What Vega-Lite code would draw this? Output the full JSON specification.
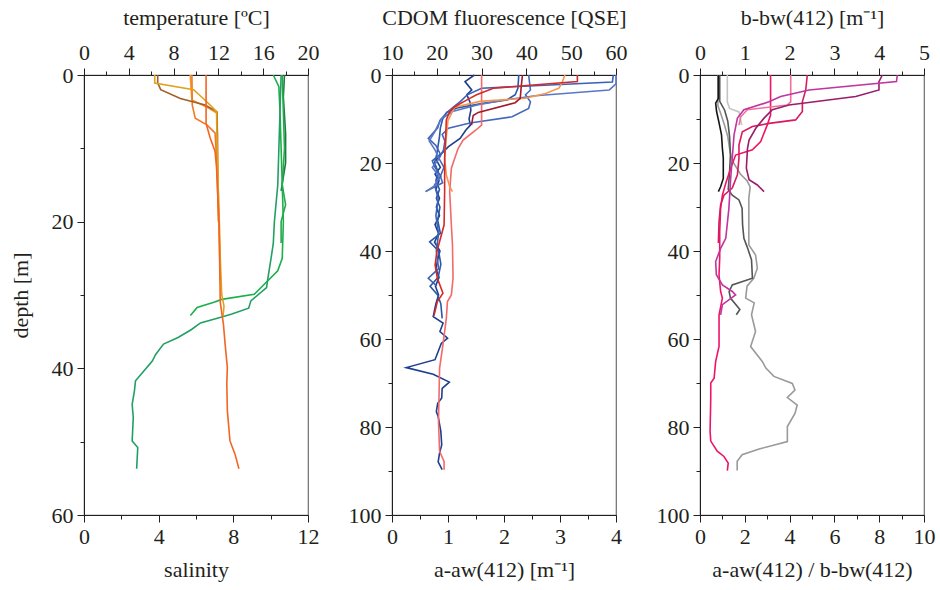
{
"$schema": "https://vega.github.io/schema/vega-lite/v6.json",
"padding": {"left": 8, "top": 5, "right": 2, "bottom": 2},
"config": {
  "font": "Liberation Serif",
  "view": {"stroke": "#6d6d6d", "strokeWidth": 1.2},
  "axis": {"labelFont": "Liberation Serif", "labelFontSize": 22, "titleFont": "Liberation Serif", "titleFontSize": 22, "titleFontWeight": "normal", "labelColor": "#231f20", "titleColor": "#231f20", "domainColor": "#231f20", "tickColor": "#231f20", "grid": false, "labelFlush": false, "labelOverlap": false, "labelPadding": 4, "tickWidth": 1, "domainWidth": 1, "titlePadding": 12},
  "line": {"strokeWidth": 1.6}
},
"datasets": {
"temp": [
{"id":"TA","d":0,"v":17.9},{"id":"TA","d":3,"v":17.8},{"id":"TA","d":8,"v":18.0},{"id":"TA","d":12,"v":18.0},{"id":"TA","d":15.8,"v":17.6},
{"id":"TB","d":0,"v":17.7},{"id":"TB","d":5,"v":17.8},{"id":"TB","d":10,"v":17.9},{"id":"TB","d":15,"v":17.7},{"id":"TB","d":17.7,"v":18.0},{"id":"TB","d":20,"v":17.6},{"id":"TB","d":22.9,"v":17.6},
{"id":"TC","d":0,"v":16.9},{"id":"TC","d":1.6,"v":17.4},{"id":"TC","d":5,"v":17.5},{"id":"TC","d":10,"v":17.6},{"id":"TC","d":15,"v":17.7},{"id":"TC","d":20,"v":17.8},{"id":"TC","d":25,"v":17.7},{"id":"TC","d":26.7,"v":17.3},{"id":"TC","d":29.9,"v":15.2},{"id":"TC","d":30.6,"v":12.3},{"id":"TC","d":31.0,"v":11.6},{"id":"TC","d":31.7,"v":10.1},{"id":"TC","d":32.8,"v":9.5},
{"id":"TD","d":0,"v":17.6},{"id":"TD","d":5,"v":17.5},{"id":"TD","d":10,"v":17.4},{"id":"TD","d":15,"v":17.3},{"id":"TD","d":20,"v":17.0},{"id":"TD","d":23,"v":16.9},{"id":"TD","d":25,"v":16.7},{"id":"TD","d":27.9,"v":16.4},{"id":"TD","d":29.0,"v":16.3},{"id":"TD","d":30.8,"v":14.9},{"id":"TD","d":31.8,"v":14.7},{"id":"TD","d":32.6,"v":13.2},{"id":"TD","d":33.0,"v":12.3},{"id":"TD","d":33.8,"v":10.4},{"id":"TD","d":34.7,"v":9.6},{"id":"TD","d":35.8,"v":8.4},{"id":"TD","d":36.7,"v":7.1},{"id":"TD","d":38.1,"v":6.4},{"id":"TD","d":39.0,"v":6.1},{"id":"TD","d":41.7,"v":4.6},{"id":"TD","d":43.1,"v":4.5},{"id":"TD","d":44.9,"v":4.3},{"id":"TD","d":46.7,"v":4.4},{"id":"TD","d":49.9,"v":4.3},{"id":"TD","d":50.8,"v":4.8},{"id":"TD","d":53.7,"v":4.7}
],
"sal": [
{"id":"SO1","d":0,"v":5.69},{"id":"SO1","d":3.4,"v":5.78},{"id":"SO1","d":4.5,"v":6.67},{"id":"SO1","d":5.2,"v":7.12},{"id":"SO1","d":10,"v":7.15},{"id":"SO1","d":20,"v":7.22},{"id":"SO1","d":28,"v":7.3},
{"id":"SO2","d":0,"v":5.78},{"id":"SO2","d":4.1,"v":5.8},{"id":"SO2","d":5.9,"v":5.96},{"id":"SO2","d":6.8,"v":6.58},{"id":"SO2","d":7.9,"v":7.02},{"id":"SO2","d":12,"v":7.12},{"id":"SO2","d":20,"v":7.2},
{"id":"SB","d":0,"v":3.95},{"id":"SB","d":1.1,"v":3.95},{"id":"SB","d":2.0,"v":4.11},{"id":"SB","d":3.2,"v":5.16},{"id":"SB","d":4.1,"v":6.49},{"id":"SB","d":5.0,"v":7.12},{"id":"SB","d":8,"v":7.15},{"id":"SB","d":11,"v":7.15},{"id":"SB","d":14,"v":7.15},
{"id":"SG","d":0,"v":3.79},{"id":"SG","d":1.1,"v":3.79},{"id":"SG","d":2.0,"v":5.87},{"id":"SG","d":3.0,"v":6.3},{"id":"SG","d":4.1,"v":6.76},{"id":"SG","d":5.0,"v":7.1},{"id":"SG","d":8,"v":7.12},{"id":"SG","d":12,"v":7.15},{"id":"SG","d":16,"v":7.2},{"id":"SG","d":20,"v":7.25},{"id":"SG","d":25,"v":7.3},{"id":"SG","d":30,"v":7.38},{"id":"SG","d":31.5,"v":7.5},{"id":"SG","d":32.9,"v":7.45},
{"id":"SR","d":0,"v":6.54},{"id":"SR","d":6.6,"v":6.54},{"id":"SR","d":8.6,"v":6.76},{"id":"SR","d":10.4,"v":7.02},{"id":"SR","d":12.6,"v":7.1},{"id":"SR","d":20.4,"v":7.24},{"id":"SR","d":31,"v":7.3},{"id":"SR","d":34.0,"v":7.47},{"id":"SR","d":36.7,"v":7.56},{"id":"SR","d":39.9,"v":7.68},{"id":"SR","d":42,"v":7.65},{"id":"SR","d":45.8,"v":7.68},{"id":"SR","d":49.9,"v":7.82},{"id":"SR","d":51.7,"v":8.09},{"id":"SR","d":53.7,"v":8.3}
],
"cdom": [
{"id":"C1","d":0,"v":28.4},{"id":"C1","d":1.5,"v":26.3},{"id":"C1","d":3.4,"v":27.8},{"id":"C1","d":4.5,"v":26.7},{"id":"C1","d":6.1,"v":27.4},{"id":"C1","d":8,"v":27.6},{"id":"C1","d":10,"v":27.2},{"id":"C1","d":11.4,"v":27.5},{"id":"C1","d":12.5,"v":26.5},{"id":"C1","d":14.4,"v":25.2},{"id":"C1","d":16.3,"v":22.6},{"id":"C1","d":17.8,"v":21.1},{"id":"C1","d":19.3,"v":19.9},{"id":"C1","d":21,"v":20.8},{"id":"C1","d":22.5,"v":19.6},{"id":"C1","d":24,"v":20.5},{"id":"C1","d":26,"v":19.8},{"id":"C1","d":28,"v":20.6},{"id":"C1","d":30,"v":19.9},{"id":"C1","d":32,"v":20.6},{"id":"C1","d":34,"v":19.6},{"id":"C1","d":36,"v":20.4},{"id":"C1","d":38,"v":19.5},{"id":"C1","d":40,"v":20.7},{"id":"C1","d":42,"v":20.2},{"id":"C1","d":44,"v":19.8},{"id":"C1","d":46,"v":20.5},{"id":"C1","d":48,"v":19.7},{"id":"C1","d":50,"v":20.4},{"id":"C1","d":52,"v":19.8},{"id":"C1","d":54.9,"v":19.2},{"id":"C1","d":56.4,"v":21.4},{"id":"C1","d":58.3,"v":20.7},{"id":"C1","d":59.8,"v":22.4},{"id":"C1","d":61,"v":21.0},{"id":"C1","d":64.7,"v":19.6},{"id":"C1","d":66.5,"v":13.2},{"id":"C1","d":68.0,"v":19.2},{"id":"C1","d":69.8,"v":22.8},{"id":"C1","d":71.2,"v":21.2},{"id":"C1","d":73.4,"v":21.1},{"id":"C1","d":74.6,"v":20.2},{"id":"C1","d":76.5,"v":19.9},{"id":"C1","d":77.6,"v":20.3},{"id":"C1","d":81,"v":20.9},{"id":"C1","d":84.1,"v":21.1},{"id":"C1","d":86,"v":20.6},{"id":"C1","d":87.9,"v":20.3},{"id":"C1","d":89.7,"v":21.2},
{"id":"C2","d":0,"v":38.3},{"id":"C2","d":3,"v":38.1},{"id":"C2","d":4.5,"v":37.5},{"id":"C2","d":5.7,"v":35.6},{"id":"C2","d":6.5,"v":30},{"id":"C2","d":7.5,"v":24.5},{"id":"C2","d":8.5,"v":22.2},{"id":"C2","d":10,"v":21.3},{"id":"C2","d":12,"v":20.8},{"id":"C2","d":14,"v":20.6},{"id":"C2","d":16,"v":20.3},{"id":"C2","d":18,"v":20.0},{"id":"C2","d":20,"v":19.5},{"id":"C2","d":22,"v":20.3},{"id":"C2","d":24,"v":19.8},{"id":"C2","d":26,"v":20.6},{"id":"C2","d":28,"v":19.9},{"id":"C2","d":30,"v":20.7},{"id":"C2","d":33,"v":20.2},{"id":"C2","d":36,"v":20.8},{"id":"C2","d":37.9,"v":18.4},{"id":"C2","d":40,"v":20.4},{"id":"C2","d":43,"v":20.9},{"id":"C2","d":46,"v":20.3},{"id":"C2","d":48,"v":18.5},{"id":"C2","d":50,"v":20.2},{"id":"C2","d":52,"v":20.9},{"id":"C2","d":55.3,"v":21.2},
{"id":"C3","d":0,"v":40.5},{"id":"C3","d":3.4,"v":40.9},{"id":"C3","d":4.5,"v":39.8},{"id":"C3","d":6.1,"v":40.9},{"id":"C3","d":7.6,"v":40.5},{"id":"C3","d":9.5,"v":36.8},{"id":"C3","d":10.9,"v":27.4},{"id":"C3","d":12.1,"v":22.6},{"id":"C3","d":13.5,"v":21.2},{"id":"C3","d":15,"v":21.8},{"id":"C3","d":17,"v":21.5},{"id":"C3","d":19,"v":20.5},{"id":"C3","d":21,"v":21.6},{"id":"C3","d":23,"v":20.8},{"id":"C3","d":24.5,"v":21.3},{"id":"C3","d":26.5,"v":17.5},
{"id":"C4","d":0,"v":59.4},{"id":"C4","d":1.6,"v":59.2},{"id":"C4","d":3.0,"v":30.0},{"id":"C4","d":4.5,"v":26.8},{"id":"C4","d":6,"v":25.3},{"id":"C4","d":7.3,"v":23.7},{"id":"C4","d":8.5,"v":22.3},{"id":"C4","d":10.3,"v":20.7},{"id":"C4","d":12,"v":20.2},{"id":"C4","d":14.4,"v":18.1},{"id":"C4","d":16,"v":19.8},{"id":"C4","d":18,"v":20.8},{"id":"C4","d":19.5,"v":19.0},{"id":"C4","d":21,"v":19.6},{"id":"C4","d":23,"v":20.9},{"id":"C4","d":25,"v":19.5},{"id":"C4","d":28,"v":20.3},{"id":"C4","d":32,"v":19.8},{"id":"C4","d":36,"v":20.4},{"id":"C4","d":40,"v":19.9},{"id":"C4","d":44,"v":20.4},{"id":"C4","d":46.2,"v":18.1},{"id":"C4","d":48,"v":20.0},
{"id":"C5","d":0,"v":60},{"id":"C5","d":2,"v":60},{"id":"C5","d":3.4,"v":58.5},{"id":"C5","d":4.7,"v":42},{"id":"C5","d":5.7,"v":35},{"id":"C5","d":6.8,"v":29},{"id":"C5","d":8.3,"v":23.5},{"id":"C5","d":10,"v":21},{"id":"C5","d":11.5,"v":20.2},{"id":"C5","d":13,"v":19.5},{"id":"C5","d":15,"v":18.3},{"id":"C5","d":17,"v":19.6},{"id":"C5","d":19,"v":20.5},{"id":"C5","d":21,"v":19.0},{"id":"C5","d":23,"v":20.5},{"id":"C5","d":25,"v":19.8},{"id":"C5","d":26.5,"v":17.5}
],
"aabs": [
{"id":"AS","d":0,"v":1.6},{"id":"AS","d":11.4,"v":1.6},{"id":"AS","d":12.5,"v":1.5},{"id":"AS","d":14.8,"v":1.27},{"id":"AS","d":16.7,"v":1.18},{"id":"AS","d":18.2,"v":1.14},{"id":"AS","d":21.2,"v":1.06},{"id":"AS","d":26.5,"v":1.03},{"id":"AS","d":34.1,"v":1.06},{"id":"AS","d":38.6,"v":1.08},{"id":"AS","d":46.2,"v":1.09},{"id":"AS","d":50,"v":1.06},{"id":"AS","d":51.5,"v":0.99},{"id":"AS","d":55.3,"v":0.97},{"id":"AS","d":61.3,"v":0.91},{"id":"AS","d":66.6,"v":0.85},{"id":"AS","d":72.7,"v":0.84},{"id":"AS","d":78.7,"v":0.83},{"id":"AS","d":85.5,"v":0.85},{"id":"AS","d":87.8,"v":0.93},{"id":"AS","d":89.7,"v":0.93},
{"id":"AO","d":0,"v":3.09},{"id":"AO","d":1.9,"v":3.03},{"id":"AO","d":3.0,"v":2.98},{"id":"AO","d":4.2,"v":2.74},{"id":"AO","d":5.3,"v":2.38},{"id":"AO","d":6.0,"v":1.57},{"id":"AO","d":7.3,"v":1.12},{"id":"AO","d":10.3,"v":1.0},{"id":"AO","d":14.1,"v":0.97},{"id":"AO","d":18.9,"v":0.94},{"id":"AO","d":22.7,"v":0.97},{"id":"AO","d":25.4,"v":1.03},{"id":"AO","d":26.5,"v":1.08},
{"id":"AD","d":0,"v":2.33},{"id":"AD","d":2.3,"v":2.31},{"id":"AD","d":5.3,"v":2.29},{"id":"AD","d":6.3,"v":2.2},{"id":"AD","d":8.5,"v":1.54},{"id":"AD","d":9.2,"v":1.45},{"id":"AD","d":11.4,"v":1.42},
{"id":"AR","d":0,"v":3.31},{"id":"AR","d":1.5,"v":3.31},{"id":"AR","d":3.0,"v":1.81},{"id":"AR","d":4.5,"v":1.51},{"id":"AR","d":5.7,"v":1.33},{"id":"AR","d":7.2,"v":1.12},{"id":"AR","d":8.3,"v":1.03},{"id":"AR","d":10.2,"v":0.97},{"id":"AR","d":13.6,"v":0.96},{"id":"AR","d":18.9,"v":0.94},{"id":"AR","d":26.5,"v":0.94},{"id":"AR","d":34.1,"v":0.93},{"id":"AR","d":40.2,"v":0.8},{"id":"AR","d":43.2,"v":0.77},{"id":"AR","d":46.2,"v":0.81},{"id":"AR","d":49.6,"v":0.91},{"id":"AR","d":51.5,"v":0.81},{"id":"AR","d":54.7,"v":0.75}
],
"bb": [
{"id":"BG","d":0,"v":0.40},{"id":"BG","d":7,"v":0.40},{"id":"BG","d":9,"v":0.47},{"id":"BG","d":11.5,"v":0.55},{"id":"BG","d":14,"v":0.62},{"id":"BG","d":18,"v":0.68},{"id":"BG","d":20,"v":0.75},{"id":"BG","d":22.5,"v":0.9},{"id":"BG","d":24,"v":1.05},{"id":"BG","d":25.5,"v":1.12},{"id":"BG","d":28,"v":1.09},{"id":"BG","d":31.8,"v":1.09},{"id":"BG","d":38.6,"v":1.09},{"id":"BG","d":40.9,"v":1.24},{"id":"BG","d":43.9,"v":1.28},{"id":"BG","d":46.2,"v":1.2},{"id":"BG","d":48,"v":1.05},{"id":"BG","d":50.7,"v":1.02},{"id":"BG","d":51.8,"v":1.21},{"id":"BG","d":54.5,"v":1.15},{"id":"BG","d":58.3,"v":1.24},{"id":"BG","d":61.7,"v":1.13},{"id":"BG","d":65.1,"v":1.39},{"id":"BG","d":66.6,"v":1.47},{"id":"BG","d":68.5,"v":1.65},{"id":"BG","d":70.1,"v":2.06},{"id":"BG","d":71.6,"v":2.12},{"id":"BG","d":73.3,"v":1.95},{"id":"BG","d":75,"v":2.17},{"id":"BG","d":76.9,"v":2.12},{"id":"BG","d":79.9,"v":1.95},{"id":"BG","d":83.3,"v":1.95},{"id":"BG","d":85,"v":1.32},{"id":"BG","d":86.3,"v":0.94},{"id":"BG","d":87.8,"v":0.83},{"id":"BG","d":89.9,"v":0.83},
{"id":"BD","d":0,"v":0.44},{"id":"BD","d":6,"v":0.44},{"id":"BD","d":8,"v":0.55},{"id":"BD","d":10.5,"v":0.62},{"id":"BD","d":14,"v":0.66},{"id":"BD","d":18,"v":0.68},{"id":"BD","d":22,"v":0.66},{"id":"BD","d":26,"v":0.63},{"id":"BD","d":27.3,"v":0.72},{"id":"BD","d":28.4,"v":0.87},{"id":"BD","d":30.3,"v":0.94},{"id":"BD","d":34,"v":0.95},{"id":"BD","d":37.1,"v":0.98},{"id":"BD","d":39,"v":1.05},{"id":"BD","d":42,"v":1.15},{"id":"BD","d":46.2,"v":1.17},{"id":"BD","d":47.7,"v":0.72},{"id":"BD","d":49.2,"v":0.65},{"id":"BD","d":50.7,"v":0.68},{"id":"BD","d":53.3,"v":0.89},{"id":"BD","d":54.5,"v":0.81},
{"id":"BL","d":0,"v":0.61},{"id":"BL","d":6.1,"v":0.61},{"id":"BL","d":7.6,"v":0.66},{"id":"BL","d":8.4,"v":0.87},{"id":"BL","d":11.4,"v":0.93},
{"id":"BK","d":0,"v":0.41},{"id":"BK","d":5.3,"v":0.41},{"id":"BK","d":6.4,"v":0.35},{"id":"BK","d":8.3,"v":0.37},{"id":"BK","d":10.6,"v":0.42},{"id":"BK","d":13.6,"v":0.48},{"id":"BK","d":16.7,"v":0.5},{"id":"BK","d":18.9,"v":0.52},{"id":"BK","d":23.5,"v":0.52},{"id":"BK","d":25.4,"v":0.46},{"id":"BK","d":26.5,"v":0.41}
],
"ratio": [
{"id":"RH","d":0,"v":3.15},{"id":"RH","d":9.1,"v":3.15},{"id":"RH","d":11.4,"v":3.0},{"id":"RH","d":15.1,"v":2.71},{"id":"RH","d":17.0,"v":2.34},{"id":"RH","d":18.2,"v":1.59},{"id":"RH","d":21.2,"v":1.37},{"id":"RH","d":24.6,"v":1.15},{"id":"RH","d":27.3,"v":1.0},{"id":"RH","d":30.3,"v":0.92},{"id":"RH","d":35.6,"v":0.88},{"id":"RH","d":41.6,"v":0.88},{"id":"RH","d":45.4,"v":0.85},{"id":"RH","d":49.2,"v":0.92},{"id":"RH","d":50.7,"v":1.0},{"id":"RH","d":54.5,"v":0.85},{"id":"RH","d":61.7,"v":0.85},{"id":"RH","d":65.1,"v":0.7},{"id":"RH","d":68.9,"v":0.63},{"id":"RH","d":70.0,"v":0.48},{"id":"RH","d":73.4,"v":0.48},{"id":"RH","d":81,"v":0.45},{"id":"RH","d":83.2,"v":0.48},{"id":"RH","d":85.5,"v":0.77},{"id":"RH","d":86.7,"v":1.07},{"id":"RH","d":88.2,"v":1.26},{"id":"RH","d":89.9,"v":1.22},
{"id":"RC","d":0,"v":4.79},{"id":"RC","d":3.4,"v":4.72},{"id":"RC","d":6.1,"v":4.57},{"id":"RC","d":8.3,"v":4.57},{"id":"RC","d":10.2,"v":4.27},{"id":"RC","d":11.0,"v":3.08},{"id":"RC","d":11.7,"v":2.34},{"id":"RC","d":12.9,"v":1.89},{"id":"RC","d":15.9,"v":1.74},{"id":"RC","d":18.9,"v":1.74},{"id":"RC","d":22.7,"v":1.67},{"id":"RC","d":25.7,"v":1.44},{"id":"RC","d":27.3,"v":1.07},{"id":"RC","d":29.5,"v":0.92},{"id":"RC","d":33.3,"v":0.85},{"id":"RC","d":38.2,"v":0.82},
{"id":"RP","d":0,"v":4.05},{"id":"RP","d":6.1,"v":4.05},{"id":"RP","d":6.8,"v":3.9},{"id":"RP","d":7.9,"v":2.11},{"id":"RP","d":9.5,"v":1.82},{"id":"RP","d":11.4,"v":1.74},
{"id":"RD","d":0,"v":8.14},{"id":"RD","d":1.5,"v":7.99},{"id":"RD","d":3.4,"v":7.99},{"id":"RD","d":4.9,"v":6.95},{"id":"RD","d":6.8,"v":3.97},{"id":"RD","d":7.9,"v":3.23},{"id":"RD","d":9.8,"v":2.86},{"id":"RD","d":12.1,"v":2.49},{"id":"RD","d":14.8,"v":2.19},{"id":"RD","d":16.7,"v":2.12},{"id":"RD","d":21.2,"v":2.07},{"id":"RD","d":23.8,"v":2.19},{"id":"RD","d":25,"v":2.56},{"id":"RD","d":26.5,"v":2.86},
{"id":"RM","d":0,"v":8.81},{"id":"RM","d":1.5,"v":8.77},{"id":"RM","d":3.4,"v":4.87},{"id":"RM","d":4.9,"v":3.6},{"id":"RM","d":6.1,"v":3.08},{"id":"RM","d":7.9,"v":1.96},{"id":"RM","d":9.8,"v":1.67},{"id":"RM","d":13.6,"v":1.52},{"id":"RM","d":18.9,"v":1.44},{"id":"RM","d":23.5,"v":1.37},{"id":"RM","d":30.3,"v":1.29},{"id":"RM","d":37.1,"v":1.15},{"id":"RM","d":39.4,"v":0.92},{"id":"RM","d":42.4,"v":0.7},{"id":"RM","d":45.4,"v":0.73},{"id":"RM","d":47.7,"v":1.0},{"id":"RM","d":49.2,"v":1.44},{"id":"RM","d":50,"v":1.59},{"id":"RM","d":52.2,"v":1.0},{"id":"RM","d":54.5,"v":0.92}
]
},
"hconcat": [
{
 "width": 224, "height": 440,
 "layer": [
  {"data": {"name": "temp"}, "mark": "line",
   "encoding": {
    "x": {"field": "v", "type": "quantitative", "scale": {"domain": [0, 20]}, "axis": {"orient": "top", "title": "temperature [ºC]", "values": [0,2,4,6,8,10,12,14,16,18,20], "labelExpr": "datum.value % 4 === 0 ? '' + datum.value : ''", "tickSize": {"condition": {"test": "datum.value % 4 === 0", "value": 7}, "value": 4}}},
    "y": {"field": "d", "type": "quantitative", "scale": {"domain": [0, 60], "reverse": true}, "axis": {"title": "depth [m]", "titlePadding": 19, "values": [0,10,20,30,40,50,60], "labelExpr": "datum.value % 20 === 0 ? '' + datum.value : ''", "tickSize": {"condition": {"test": "datum.value % 20 === 0", "value": 7}, "value": 4}}},
    "order": {"field": "d"},
    "color": {"field": "id", "type": "nominal", "legend": null, "scale": {"domain": ["TA","TB","TC","TD","SO1","SO2","SB","SG","SR","C1","C2","C3","C4","C5","AS","AO","AD","AR","BG","BD","BL","BK","RH","RC","RP","RD","RM"], "range": ["#1b7a40","#2aa84a","#19b04b","#22a064","#f7941d","#f07a22","#a0602a","#e0a21e","#f26522","#1c3f8f","#2a57a8","#4468bf","#3a62b5","#5a78c6","#f26a6a","#f7944d","#a21a2c","#d42a2a","#9a9a9a","#555555","#c4c4c4","#151515","#ee1466","#d81b60","#f0709a","#9a1d6c","#c0359e"]}}
   }},
  {"data": {"name": "sal"}, "mark": "line",
   "encoding": {
    "x": {"field": "v", "type": "quantitative", "scale": {"domain": [0, 12]}, "axis": {"orient": "bottom", "title": "salinity", "values": [0,2,4,6,8,10,12], "labelExpr": "datum.value % 4 === 0 ? '' + datum.value : ''", "tickSize": {"condition": {"test": "datum.value % 4 === 0", "value": 7}, "value": 4}}},
    "y": {"field": "d", "type": "quantitative", "scale": {"domain": [0, 60], "reverse": true}, "axis": {"title": "depth [m]", "titlePadding": 19, "values": [0,10,20,30,40,50,60], "labelExpr": "datum.value % 20 === 0 ? '' + datum.value : ''", "tickSize": {"condition": {"test": "datum.value % 20 === 0", "value": 7}, "value": 4}}},
    "order": {"field": "d"},
    "color": {"field": "id", "type": "nominal", "legend": null, "scale": {"domain": ["TA","TB","TC","TD","SO1","SO2","SB","SG","SR","C1","C2","C3","C4","C5","AS","AO","AD","AR","BG","BD","BL","BK","RH","RC","RP","RD","RM"], "range": ["#1b7a40","#2aa84a","#19b04b","#22a064","#f7941d","#f07a22","#a0602a","#e0a21e","#f26522","#1c3f8f","#2a57a8","#4468bf","#3a62b5","#5a78c6","#f26a6a","#f7944d","#a21a2c","#d42a2a","#9a9a9a","#555555","#c4c4c4","#151515","#ee1466","#d81b60","#f0709a","#9a1d6c","#c0359e"]}}
   }}
 ],
 "resolve": {"scale": {"x": "independent"}}
},
{
 "width": 224, "height": 440,
 "layer": [
  {"data": {"name": "cdom"}, "mark": "line",
   "encoding": {
    "x": {"field": "v", "type": "quantitative", "scale": {"domain": [10, 60]}, "axis": {"orient": "top", "title": "CDOM fluorescence [QSE]", "values": [10,15,20,25,30,35,40,45,50,55,60], "labelExpr": "datum.value % 10 === 0 ? '' + datum.value : ''", "tickSize": {"condition": {"test": "datum.value % 10 === 0", "value": 7}, "value": 4}}},
    "y": {"field": "d", "type": "quantitative", "scale": {"domain": [0, 100], "reverse": true}, "axis": {"title": null, "values": [0,10,20,30,40,50,60,70,80,90,100], "labelExpr": "datum.value % 20 === 0 ? '' + datum.value : ''", "tickSize": {"condition": {"test": "datum.value % 20 === 0", "value": 7}, "value": 4}}},
    "order": {"field": "d"},
    "color": {"field": "id", "type": "nominal", "legend": null, "scale": {"domain": ["TA","TB","TC","TD","SO1","SO2","SB","SG","SR","C1","C2","C3","C4","C5","AS","AO","AD","AR","BG","BD","BL","BK","RH","RC","RP","RD","RM"], "range": ["#1b7a40","#2aa84a","#19b04b","#22a064","#f7941d","#f07a22","#a0602a","#e0a21e","#f26522","#1c3f8f","#2a57a8","#4468bf","#3a62b5","#5a78c6","#f26a6a","#f7944d","#a21a2c","#d42a2a","#9a9a9a","#555555","#c4c4c4","#151515","#ee1466","#d81b60","#f0709a","#9a1d6c","#c0359e"]}}
   }},
  {"data": {"name": "aabs"}, "mark": "line",
   "encoding": {
    "x": {"field": "v", "type": "quantitative", "scale": {"domain": [0, 4]}, "axis": {"orient": "bottom", "title": "a-aw(412) [m⁻¹]", "values": [0,0.5,1,1.5,2,2.5,3,3.5,4], "labelExpr": "datum.value % 1 === 0 ? '' + datum.value : ''", "tickSize": {"condition": {"test": "datum.value % 1 === 0", "value": 7}, "value": 4}}},
    "y": {"field": "d", "type": "quantitative", "scale": {"domain": [0, 100], "reverse": true}, "axis": {"title": null, "values": [0,10,20,30,40,50,60,70,80,90,100], "labelExpr": "datum.value % 20 === 0 ? '' + datum.value : ''", "tickSize": {"condition": {"test": "datum.value % 20 === 0", "value": 7}, "value": 4}}},
    "order": {"field": "d"},
    "color": {"field": "id", "type": "nominal", "legend": null, "scale": {"domain": ["TA","TB","TC","TD","SO1","SO2","SB","SG","SR","C1","C2","C3","C4","C5","AS","AO","AD","AR","BG","BD","BL","BK","RH","RC","RP","RD","RM"], "range": ["#1b7a40","#2aa84a","#19b04b","#22a064","#f7941d","#f07a22","#a0602a","#e0a21e","#f26522","#1c3f8f","#2a57a8","#4468bf","#3a62b5","#5a78c6","#f26a6a","#f7944d","#a21a2c","#d42a2a","#9a9a9a","#555555","#c4c4c4","#151515","#ee1466","#d81b60","#f0709a","#9a1d6c","#c0359e"]}}
   }}
 ],
 "resolve": {"scale": {"x": "independent"}}
},
{
 "width": 224, "height": 440,
 "layer": [
  {"data": {"name": "bb"}, "mark": "line",
   "encoding": {
    "x": {"field": "v", "type": "quantitative", "scale": {"domain": [0, 5]}, "axis": {"orient": "top", "title": "b-bw(412) [m⁻¹]", "values": [0,0.5,1,1.5,2,2.5,3,3.5,4,4.5,5], "labelExpr": "datum.value % 1 === 0 ? '' + datum.value : ''", "tickSize": {"condition": {"test": "datum.value % 1 === 0", "value": 7}, "value": 4}}},
    "y": {"field": "d", "type": "quantitative", "scale": {"domain": [0, 100], "reverse": true}, "axis": {"title": null, "values": [0,10,20,30,40,50,60,70,80,90,100], "labelExpr": "datum.value % 20 === 0 ? '' + datum.value : ''", "tickSize": {"condition": {"test": "datum.value % 20 === 0", "value": 7}, "value": 4}}},
    "order": {"field": "d"},
    "color": {"field": "id", "type": "nominal", "legend": null, "scale": {"domain": ["TA","TB","TC","TD","SO1","SO2","SB","SG","SR","C1","C2","C3","C4","C5","AS","AO","AD","AR","BG","BD","BL","BK","RH","RC","RP","RD","RM"], "range": ["#1b7a40","#2aa84a","#19b04b","#22a064","#f7941d","#f07a22","#a0602a","#e0a21e","#f26522","#1c3f8f","#2a57a8","#4468bf","#3a62b5","#5a78c6","#f26a6a","#f7944d","#a21a2c","#d42a2a","#9a9a9a","#555555","#c4c4c4","#151515","#ee1466","#d81b60","#f0709a","#9a1d6c","#c0359e"]}}
   }},
  {"data": {"name": "ratio"}, "mark": "line",
   "encoding": {
    "x": {"field": "v", "type": "quantitative", "scale": {"domain": [0, 10]}, "axis": {"orient": "bottom", "title": "a-aw(412) / b-bw(412)", "values": [0,1,2,3,4,5,6,7,8,9,10], "labelExpr": "datum.value % 2 === 0 ? '' + datum.value : ''", "tickSize": {"condition": {"test": "datum.value % 2 === 0", "value": 7}, "value": 4}}},
    "y": {"field": "d", "type": "quantitative", "scale": {"domain": [0, 100], "reverse": true}, "axis": {"title": null, "values": [0,10,20,30,40,50,60,70,80,90,100], "labelExpr": "datum.value % 20 === 0 ? '' + datum.value : ''", "tickSize": {"condition": {"test": "datum.value % 20 === 0", "value": 7}, "value": 4}}},
    "order": {"field": "d"},
    "color": {"field": "id", "type": "nominal", "legend": null, "scale": {"domain": ["TA","TB","TC","TD","SO1","SO2","SB","SG","SR","C1","C2","C3","C4","C5","AS","AO","AD","AR","BG","BD","BL","BK","RH","RC","RP","RD","RM"], "range": ["#1b7a40","#2aa84a","#19b04b","#22a064","#f7941d","#f07a22","#a0602a","#e0a21e","#f26522","#1c3f8f","#2a57a8","#4468bf","#3a62b5","#5a78c6","#f26a6a","#f7944d","#a21a2c","#d42a2a","#9a9a9a","#555555","#c4c4c4","#151515","#ee1466","#d81b60","#f0709a","#9a1d6c","#c0359e"]}}
   }}
 ],
 "resolve": {"scale": {"x": "independent"}}
}
],
"spacing": 84,
"bounds": "flush"
}
